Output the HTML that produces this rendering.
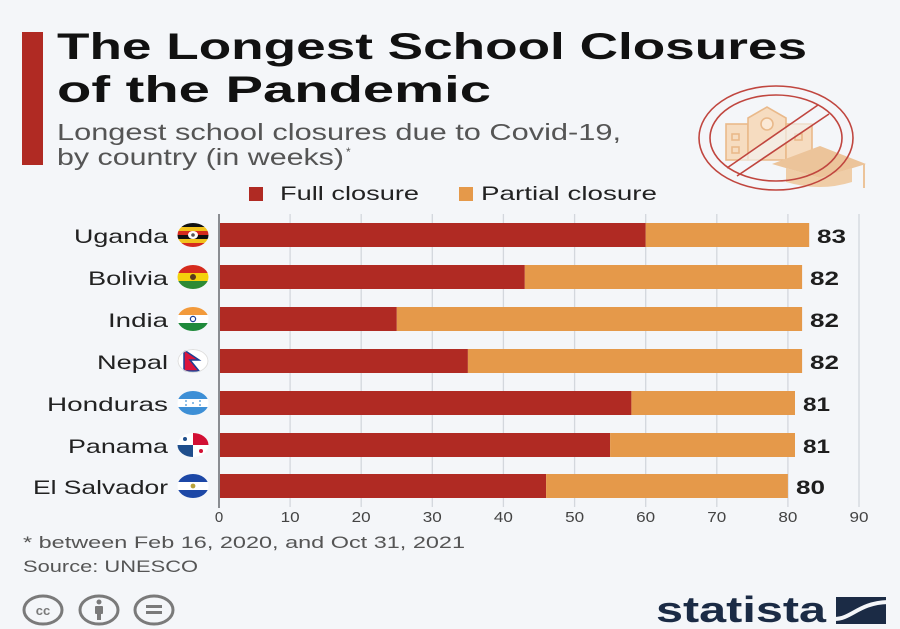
<!DOCTYPE html>
<html><head><meta charset="utf-8"><style>
html,body{margin:0;padding:0;background:#f4f6f9;}
svg{display:block;}
text{font-family:"Liberation Sans",sans-serif;}
</style></head><body>
<svg width="900" height="629" viewBox="0 0 900 629" xmlns="http://www.w3.org/2000/svg">
<rect width="900" height="629" fill="#f4f6f9"/>
<!-- header bar -->
<rect x="22" y="32" width="21" height="133" fill="#b02a23"/>
<text x="57" y="59" font-size="37.5" font-weight="bold" fill="#111" textLength="750" lengthAdjust="spacingAndGlyphs">The Longest School Closures</text>
<text x="57" y="102" font-size="37.5" font-weight="bold" fill="#111" textLength="434" lengthAdjust="spacingAndGlyphs">of the Pandemic</text>
<text x="57" y="140" font-size="23" fill="#555" textLength="564" lengthAdjust="spacingAndGlyphs">Longest school closures due to Covid-19,</text>
<text x="57" y="165" font-size="23" fill="#555" textLength="287" lengthAdjust="spacingAndGlyphs">by country (in weeks)</text>
<text x="346" y="156" font-size="12" fill="#555">*</text>

<!-- icon -->
<g>
  <g fill="none" stroke="#e9b98a" stroke-width="1.6">
    <rect x="726" y="124" width="22" height="36" fill="#f6dcc0"/>
    <path d="M748 160 V118 L767 107 L786 118 V160 Z" fill="#f6dcc0"/>
    <rect x="786" y="124" width="26" height="36" fill="#f6dcc0"/>
    <circle cx="767" cy="124" r="6" fill="#fbe9d6"/>
    <rect x="732" y="134" width="7" height="6"/>
    <rect x="732" y="147" width="7" height="6"/>
    <rect x="795" y="134" width="7" height="6"/>
  </g>
  <path d="M772 164 L820 146 L866 164 L820 178 Z" fill="#ecc49a"/>
  <path d="M786 168 V182 Q820 192 852 182 V168 L820 178 Z" fill="#efcda7"/>
  <line x1="864" y1="164" x2="864" y2="188" stroke="#ecc49a" stroke-width="2"/>
  <path d="M818 105 L829 114 L737 176 L727 168 Z" fill="#f4f6f9" opacity="0.6"/>
  <g fill="none" stroke="#c0463f" stroke-width="1.6">
    <ellipse cx="776" cy="138" rx="77" ry="52"/>
    <ellipse cx="776" cy="138" rx="66" ry="43"/>
    <line x1="818" y1="105" x2="727" y2="168"/>
    <line x1="829" y1="114" x2="737" y2="176"/>
  </g>
</g>

<!-- legend -->
<rect x="249" y="187" width="14" height="14" fill="#b02a23"/>
<text x="280" y="200" font-size="19.5" fill="#222" textLength="139" lengthAdjust="spacingAndGlyphs">Full closure</text>
<rect x="459" y="187" width="14" height="14" fill="#e5994a"/>
<text x="481" y="200" font-size="19.5" fill="#222" textLength="176" lengthAdjust="spacingAndGlyphs">Partial closure</text>

<!-- grid -->
<g stroke="#d3d7dd" stroke-width="1.3">
  <line x1="290.1" y1="214" x2="290.1" y2="507"/>
  <line x1="361.2" y1="214" x2="361.2" y2="507"/>
  <line x1="432.3" y1="214" x2="432.3" y2="507"/>
  <line x1="503.4" y1="214" x2="503.4" y2="507"/>
  <line x1="574.6" y1="214" x2="574.6" y2="507"/>
  <line x1="645.7" y1="214" x2="645.7" y2="507"/>
  <line x1="716.8" y1="214" x2="716.8" y2="507"/>
  <line x1="787.9" y1="214" x2="787.9" y2="507"/>
  <line x1="859" y1="214" x2="859" y2="507"/>
</g>

<!-- bars -->
<g>
  <rect x="219" y="223" width="426.7" height="24" fill="#b02a23"/>
  <rect x="645.7" y="223" width="163.5" height="24" fill="#e5994a"/>
  <rect x="219" y="265" width="305.8" height="24" fill="#b02a23"/>
  <rect x="524.8" y="265" width="277.3" height="24" fill="#e5994a"/>
  <rect x="219" y="307" width="177.8" height="24" fill="#b02a23"/>
  <rect x="396.8" y="307" width="405.3" height="24" fill="#e5994a"/>
  <rect x="219" y="349" width="248.9" height="24" fill="#b02a23"/>
  <rect x="467.9" y="349" width="334.2" height="24" fill="#e5994a"/>
  <rect x="219" y="391" width="412.4" height="24" fill="#b02a23"/>
  <rect x="631.4" y="391" width="163.6" height="24" fill="#e5994a"/>
  <rect x="219" y="433" width="391.1" height="24" fill="#b02a23"/>
  <rect x="610.1" y="433" width="184.9" height="24" fill="#e5994a"/>
  <rect x="219" y="474" width="327.1" height="24" fill="#b02a23"/>
  <rect x="546.1" y="474" width="241.8" height="24" fill="#e5994a"/>
</g>
<line x1="219" y1="214" x2="219" y2="508" stroke="#8a8d92" stroke-width="2"/>

<!-- values -->
<g font-size="19.5" font-weight="bold" fill="#1e1e1e">
  <text x="817" y="243" textLength="29" lengthAdjust="spacingAndGlyphs">83</text>
  <text x="810" y="285" textLength="29" lengthAdjust="spacingAndGlyphs">82</text>
  <text x="810" y="327" textLength="29" lengthAdjust="spacingAndGlyphs">82</text>
  <text x="810" y="369" textLength="29" lengthAdjust="spacingAndGlyphs">82</text>
  <text x="803" y="411" textLength="27" lengthAdjust="spacingAndGlyphs">81</text>
  <text x="803" y="453" textLength="27" lengthAdjust="spacingAndGlyphs">81</text>
  <text x="796" y="494" textLength="29" lengthAdjust="spacingAndGlyphs">80</text>
</g>

<!-- country labels -->
<g font-size="19.5" fill="#222" text-anchor="end">
  <text x="168" y="243" textLength="94" lengthAdjust="spacingAndGlyphs">Uganda</text>
  <text x="168" y="285" textLength="80" lengthAdjust="spacingAndGlyphs">Bolivia</text>
  <text x="168" y="327" textLength="60" lengthAdjust="spacingAndGlyphs">India</text>
  <text x="168" y="369" textLength="71" lengthAdjust="spacingAndGlyphs">Nepal</text>
  <text x="168" y="411" textLength="121" lengthAdjust="spacingAndGlyphs">Honduras</text>
  <text x="168" y="453" textLength="100" lengthAdjust="spacingAndGlyphs">Panama</text>
  <text x="168" y="494" textLength="135" lengthAdjust="spacingAndGlyphs">El Salvador</text>
</g>

<!-- flags -->
<defs>
  <clipPath id="f1"><ellipse cx="193" cy="235" rx="15.5" ry="12"/></clipPath>
  <clipPath id="f2"><ellipse cx="193" cy="277" rx="15.5" ry="12"/></clipPath>
  <clipPath id="f3"><ellipse cx="193" cy="319" rx="15.5" ry="12"/></clipPath>
  <clipPath id="f4"><ellipse cx="193" cy="361" rx="15.5" ry="12"/></clipPath>
  <clipPath id="f5"><ellipse cx="193" cy="403" rx="15.5" ry="12"/></clipPath>
  <clipPath id="f6"><ellipse cx="193" cy="445" rx="15.5" ry="12"/></clipPath>
  <clipPath id="f7"><ellipse cx="193" cy="486" rx="15.5" ry="12"/></clipPath>
</defs>
<g clip-path="url(#f1)">
  <rect x="177" y="223" width="32" height="4" fill="#111"/>
  <rect x="177" y="227" width="32" height="4" fill="#f2c21b"/>
  <rect x="177" y="231" width="32" height="4" fill="#d52b1e"/>
  <rect x="177" y="235" width="32" height="4" fill="#111"/>
  <rect x="177" y="239" width="32" height="4" fill="#f2c21b"/>
  <rect x="177" y="243" width="32" height="4" fill="#d52b1e"/>
  <ellipse cx="193" cy="235" rx="5" ry="4" fill="#fff"/>
  <circle cx="193" cy="235" r="1.8" fill="#555"/>
</g>
<g clip-path="url(#f2)">
  <rect x="177" y="265" width="32" height="8" fill="#d52b1e"/>
  <rect x="177" y="273" width="32" height="8" fill="#f4d10c"/>
  <rect x="177" y="281" width="32" height="8" fill="#2d8a34"/>
  <circle cx="193" cy="277" r="3" fill="#5a3a1c"/>
</g>
<g clip-path="url(#f3)">
  <rect x="177" y="307" width="32" height="8" fill="#f29a3b"/>
  <rect x="177" y="315" width="32" height="8" fill="#fff"/>
  <rect x="177" y="323" width="32" height="8" fill="#1f8a3b"/>
  <circle cx="193" cy="319" r="2.6" fill="none" stroke="#1c3f94" stroke-width="1.2"/>
</g>
<g clip-path="url(#f4)">
  <rect x="177" y="349" width="32" height="24" fill="#fff"/>
  <path d="M184 350 L199 360 L190 360 L199 371 L184 371 Z" fill="#dc143c" stroke="#1c3f94" stroke-width="1.5"/>
  <ellipse cx="193" cy="361" rx="15" ry="11.5" fill="none" stroke="#ddd" stroke-width="1"/>
</g>
<g clip-path="url(#f5)">
  <rect x="177" y="391" width="32" height="8" fill="#3d8fd6"/>
  <rect x="177" y="399" width="32" height="8" fill="#fff"/>
  <rect x="177" y="407" width="32" height="8" fill="#3d8fd6"/>
  <g fill="#3d8fd6"><circle cx="186" cy="401" r="0.9"/><circle cx="186" cy="405" r="0.9"/><circle cx="193" cy="403" r="0.9"/><circle cx="200" cy="401" r="0.9"/><circle cx="200" cy="405" r="0.9"/></g>
</g>
<g clip-path="url(#f6)">
  <rect x="177" y="433" width="32" height="24" fill="#fff"/>
  <rect x="193" y="433" width="16" height="12" fill="#d21034"/>
  <rect x="177" y="445" width="16" height="12" fill="#1f4e8c"/>
  <circle cx="185" cy="439" r="2" fill="#1f4e8c"/>
  <circle cx="201" cy="451" r="2" fill="#d21034"/>
</g>
<g clip-path="url(#f7)">
  <rect x="177" y="474" width="32" height="8" fill="#1c47a6"/>
  <rect x="177" y="482" width="32" height="8" fill="#fff"/>
  <rect x="177" y="490" width="32" height="8" fill="#1c47a6"/>
  <circle cx="193" cy="486" r="2.4" fill="#b9a23a"/>
</g>

<!-- x axis labels -->
<g font-size="15" fill="#444" text-anchor="middle">
  <text x="219" y="522">0</text>
  <text x="290.1" y="522" textLength="19" lengthAdjust="spacingAndGlyphs">10</text>
  <text x="361.2" y="522" textLength="19" lengthAdjust="spacingAndGlyphs">20</text>
  <text x="432.3" y="522" textLength="19" lengthAdjust="spacingAndGlyphs">30</text>
  <text x="503.4" y="522" textLength="19" lengthAdjust="spacingAndGlyphs">40</text>
  <text x="574.6" y="522" textLength="19" lengthAdjust="spacingAndGlyphs">50</text>
  <text x="645.7" y="522" textLength="19" lengthAdjust="spacingAndGlyphs">60</text>
  <text x="716.8" y="522" textLength="19" lengthAdjust="spacingAndGlyphs">70</text>
  <text x="787.9" y="522" textLength="19" lengthAdjust="spacingAndGlyphs">80</text>
  <text x="859" y="522" textLength="19" lengthAdjust="spacingAndGlyphs">90</text>
</g>

<!-- footer -->
<text x="23" y="548" font-size="17" fill="#555" textLength="442" lengthAdjust="spacingAndGlyphs">* between Feb 16, 2020, and Oct 31, 2021</text>
<text x="23" y="572" font-size="17" fill="#555" textLength="175" lengthAdjust="spacingAndGlyphs">Source: UNESCO</text>

<g fill="none" stroke="#7a7a7a" stroke-width="3">
  <ellipse cx="43" cy="610" rx="19" ry="14"/>
  <ellipse cx="99" cy="610" rx="19" ry="14"/>
  <ellipse cx="154" cy="610" rx="19" ry="14"/>
</g>
<text x="43" y="615" font-size="13" font-weight="bold" fill="#7a7a7a" text-anchor="middle">cc</text>
<circle cx="99" cy="602" r="2.5" fill="#7a7a7a"/>
<rect x="95" y="606" width="8" height="8" rx="1" fill="#7a7a7a"/>
<rect x="97" y="613" width="4" height="7" fill="#7a7a7a"/>
<rect x="146" y="605" width="16" height="3" fill="#7a7a7a"/>
<rect x="146" y="611" width="16" height="3" fill="#7a7a7a"/>

<text x="656" y="622" font-size="36" font-weight="bold" fill="#1b2b45" textLength="170" lengthAdjust="spacingAndGlyphs">statista</text>
<rect x="836" y="597" width="50" height="27" fill="#1b2b45"/>
<path d="M834 619 C852 619 858 603 888 602" fill="none" stroke="#f4f6f9" stroke-width="4"/>
</svg>
</body></html>
